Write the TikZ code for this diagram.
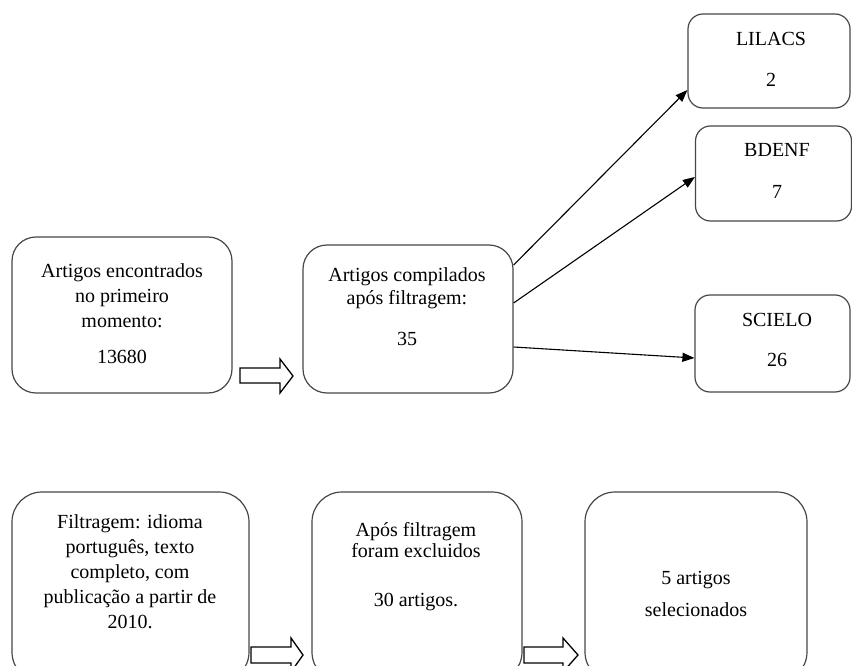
\documentclass[tikz,border=0pt]{standalone}
\usepackage{fontspec}
\setmainfont{Liberation Serif}
\usetikzlibrary{arrows.meta,calc}
\tikzset{
  boxnode/.style={draw=black!72, line width=1.2pt, rounded corners=#1, inner sep=0pt},
  boxnode/.default=24pt,
  txt/.style={align=center, inner sep=0pt, font=\fontsize{20}{#1}\selectfont},
  txt/.default=25,
  thinarrow/.style={draw=black, line width=1.1pt, -{Triangle[length=12pt,width=9pt]}},
  blockarrow/.style={draw=black, line width=1.3pt, fill=white, line join=miter}
}
\begin{document}
\begin{tikzpicture}[x=1pt,y=-1pt]
\useasboundingbox (0,0) rectangle (852,666);
\clip (0,0) rectangle (852,666);
\fill[white] (0,0) rectangle (852,666);

% top row boxes
\node[boxnode, minimum width=220pt, minimum height=156pt] (b1) at (122,315) {};
\node[txt] (t1) at (122,314) {Artigos encontrados\\no primeiro\\momento:\\[11pt]13680};

\node[boxnode, minimum width=210pt, minimum height=148pt] (b2) at (408,319) {};
\node[txt=23] (t2) at (407,307) {Artigos compilados\\após filtragem:\\[18pt]35};

\node[boxnode=15pt, minimum width=162pt, minimum height=94pt] (lil) at (769,61) {};
\node[txt=41] (tlil) at (771,59.5) {LILACS\\2};

\node[boxnode=15pt, minimum width=156pt, minimum height=95pt] (bde) at (773.5,173.5) {};
\node[txt=42] (tbde) at (777,171) {BDENF\\7};

\node[boxnode=15pt, minimum width=155pt, minimum height=97pt] (sci) at (772.5,343.5) {};
\node[txt=40] (tsci) at (777,340) {SCIELO\\26};

% bottom row boxes (cut by the lower edge)
\node[boxnode=30pt, minimum width=237pt, minimum height=190pt] (b4) at (130.5,587) {};
\node[txt] (t4) at (130,572) {Filtragem: idioma\\português, texto\\completo, com\\publicação a partir de\\2010.};

\node[boxnode=30pt, minimum width=210pt, minimum height=190pt] (b5) at (417,587) {};
\node[txt=21] (t5) at (416,567) {Após filtragem\\foram excluidos\\[28pt]30 artigos.};

\node[boxnode=30pt, minimum width=222pt, minimum height=190pt] (b6) at (696,587) {};
\node[txt=32] (t6) at (696,594) {5 artigos\\selecionados};

% thin arrows
\coordinate (s1) at ($(b2.east)+(0,-54)$);
\coordinate (s2) at ($(b2.east)+(0,-16)$);
\coordinate (s3) at ($(b2.east)+(0,28)$);
\coordinate (e1) at ($(lil.west)+(0,29)$);
\coordinate (e2) at ($(bde.west)+(0,3.5)$);
\coordinate (e3) at ($(sci.west)+(0,14.5)$);
\draw[thinarrow] (s1) -- (e1);
\draw[thinarrow] (s2) -- (e2);
\draw[thinarrow] (s3) -- (e3);

% block arrows
\draw[blockarrow] (240,368) -- (280,368) -- (280,359) -- (293,376) -- (280,393) -- (280,383) -- (240,383) -- cycle;
\draw[blockarrow] (251,647) -- (291,647) -- (291,638) -- (303,655) -- (291,672) -- (291,663) -- (251,663) -- cycle;
\draw[blockarrow] (524,647) -- (563,647) -- (563,638) -- (578,655) -- (563,672) -- (563,663) -- (524,663) -- cycle;
\end{tikzpicture}
\end{document}
